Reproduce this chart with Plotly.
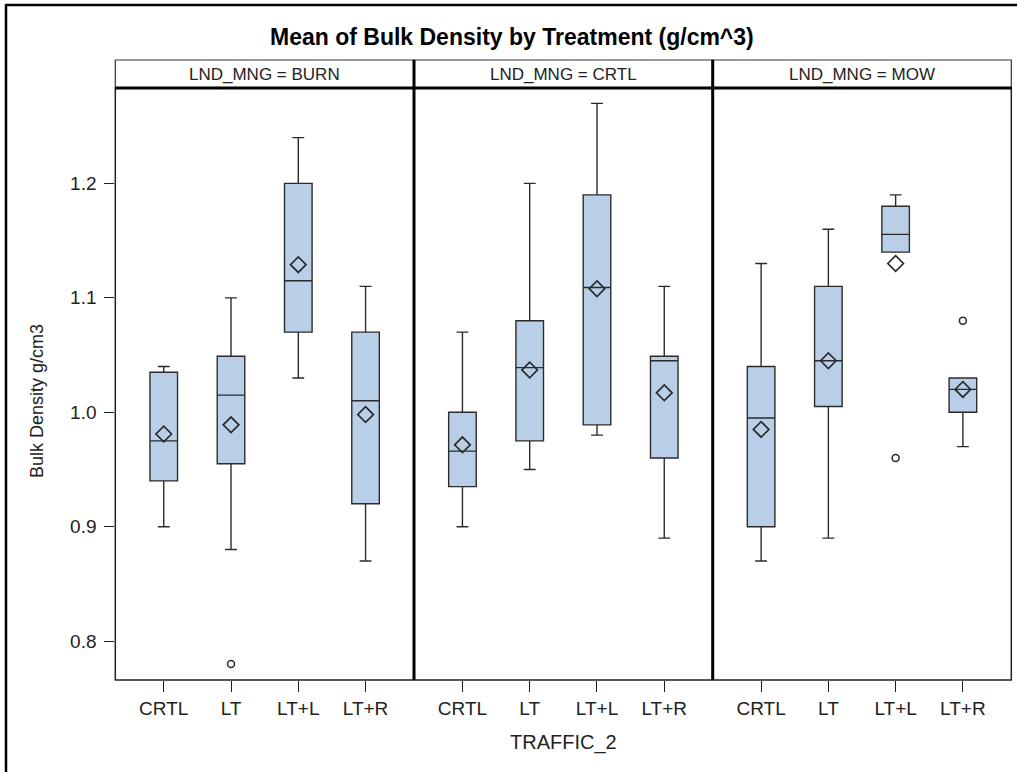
import plotly.graph_objects as go

W, H = 1017, 772

# ---------------- data ----------------
categories = ["CRTL", "LT", "LT+L", "LT+R"]
panels = ["BURN", "CRTL", "MOW"]

# LND_MNG = BURN
burn_q1 = [0.940, 0.955, 1.070, 0.920]
burn_median = [0.975, 1.015, 1.115, 1.010]
burn_q3 = [1.035, 1.049, 1.200, 1.070]
burn_low = [0.900, 0.880, 1.030, 0.870]
burn_high = [1.040, 1.100, 1.240, 1.110]
burn_mean = [0.981, 0.989, 1.129, 0.998]
burn_out_x = ["LT"]
burn_out_y = [0.780]

# LND_MNG = CRTL
crtl_q1 = [0.935, 0.975, 0.989, 0.960]
crtl_median = [0.966, 1.039, 1.109, 1.045]
crtl_q3 = [1.000, 1.080, 1.190, 1.049]
crtl_low = [0.900, 0.950, 0.980, 0.890]
crtl_high = [1.070, 1.200, 1.270, 1.110]
crtl_mean = [0.9715, 1.037, 1.108, 1.017]
crtl_out_x = []
crtl_out_y = []

# LND_MNG = MOW
mow_q1 = [0.900, 1.005, 1.140, 1.000]
mow_median = [0.995, 1.045, 1.1555, 1.020]
mow_q3 = [1.040, 1.110, 1.180, 1.030]
mow_low = [0.870, 0.890, 1.140, 0.970]
mow_high = [1.130, 1.160, 1.190, 1.030]
mow_mean = [0.985, 1.045, 1.130, 1.020]
mow_out_x = ["LT+L", "LT+R"]
mow_out_y = [0.960, 1.080]

y_ticks = [0.8, 0.9, 1.0, 1.1, 1.2]
y_ticktext = ["0.8", "0.9", "1.0", "1.1", "1.2"]

panel_data = [
    (burn_q1, burn_median, burn_q3, burn_low, burn_high, burn_mean, burn_out_x, burn_out_y),
    (crtl_q1, crtl_median, crtl_q3, crtl_low, crtl_high, crtl_mean, crtl_out_x, crtl_out_y),
    (mow_q1, mow_median, mow_q3, mow_low, mow_high, mow_mean, mow_out_x, mow_out_y),
]

# ---------------- layout geometry (pixels) ----------------
FONT = "Liberation Sans, Arial, sans-serif"
LINE = "#2b2b2b"
FILL = "#b9cfe7"

panel_x = [115.3, 414.0, 712.7, 1011.3]
plot_top, plot_bottom, strip_top = 88.0, 680.0, 60.0


def px(x):
    return x / W


def py(y):
    return 1 - y / H


fig = go.Figure()

for i, (q1, med, q3, lo, hi, mn, ox, oy) in enumerate(panel_data):
    xa = "x" if i == 0 else f"x{i+1}"
    ya = "y" if i == 0 else f"y{i+1}"
    fig.add_trace(go.Box(
        x=categories, q1=q1, median=med, q3=q3,
        lowerfence=lo, upperfence=hi,
        boxpoints=False, width=0.41, whiskerwidth=0.43,
        fillcolor=FILL, line=dict(color=LINE, width=1.4),
        xaxis=xa, yaxis=ya, showlegend=False, hoverinfo="skip",
    ))
    fig.add_trace(go.Scatter(
        x=categories, y=mn, mode="markers",
        marker=dict(symbol="diamond-open", size=12, color=LINE,
                    line=dict(color=LINE, width=1.7)),
        xaxis=xa, yaxis=ya, showlegend=False, hoverinfo="skip",
    ))
    if ox:
        fig.add_trace(go.Scatter(
            x=ox, y=oy, mode="markers",
            marker=dict(symbol="circle-open", size=7, color=LINE,
                        line=dict(color=LINE, width=1.5)),
            xaxis=xa, yaxis=ya, showlegend=False, hoverinfo="skip",
        ))

yr = [0.766, 1.2834]
layout = dict(
    width=W, height=H,
    margin=dict(l=0, r=0, t=0, b=0),
    paper_bgcolor="white", plot_bgcolor="white",
    font=dict(family=FONT, color="#222"),
    showlegend=False,
)
for i in range(3):
    xk = "xaxis" if i == 0 else f"xaxis{i+1}"
    yk = "yaxis" if i == 0 else f"yaxis{i+1}"
    layout[xk] = dict(
        domain=[px(panel_x[i]), px(panel_x[i + 1])],
        anchor="y" if i == 0 else f"y{i+1}",
        type="category", categoryorder="array", categoryarray=categories,
        range=[-0.72, 3.72], showgrid=False, zeroline=False, showline=False,
        ticks="outside", ticklen=11, tickwidth=1.2, tickcolor="#222",
        tickfont=dict(size=19, color="#222", family=FONT),
    )
    layout[yk] = dict(
        domain=[py(plot_bottom), py(plot_top)],
        anchor="x" if i == 0 else f"x{i+1}",
        range=yr, showgrid=False, zeroline=False, showline=False,
        tickvals=y_ticks, ticktext=y_ticktext,
        ticks="outside" if i == 0 else "", ticklen=10, tickwidth=1.2, tickcolor="#222",
        showticklabels=(i == 0), ticklabelstandoff=4,
        tickfont=dict(size=19, color="#222", family=FONT),
    )
    if i > 0:
        layout[yk]["matches"] = "y"
fig.update_layout(**layout)

shapes = []
# strip header boxes
for i in range(3):
    shapes.append(dict(type="rect", xref="paper", yref="paper",
                       x0=px(panel_x[i]), x1=px(panel_x[i + 1]),
                       y0=py(plot_top), y1=py(strip_top),
                       fillcolor="white", line=dict(color="#333", width=1.2), layer="above"))
# plot area outline
shapes.append(dict(type="rect", xref="paper", yref="paper",
                   x0=px(panel_x[0]), x1=px(panel_x[3]),
                   y0=py(plot_bottom), y1=py(plot_top),
                   line=dict(color="#222", width=1.5), layer="above"))
# thick header separator
shapes.append(dict(type="line", xref="paper", yref="paper",
                   x0=px(panel_x[0]), x1=px(panel_x[3]), y0=py(plot_top), y1=py(plot_top),
                   line=dict(color="black", width=3), layer="above"))
# thick panel dividers
for xd in panel_x[1:3]:
    shapes.append(dict(type="line", xref="paper", yref="paper",
                       x0=px(xd), x1=px(xd), y0=py(strip_top), y1=py(plot_bottom),
                       line=dict(color="black", width=3), layer="above"))
# outer image border (top and left)
shapes.append(dict(type="line", xref="paper", yref="paper",
                   x0=px(5.5), x1=1.0, y0=py(5), y1=py(5),
                   line=dict(color="black", width=2.5), layer="above"))
shapes.append(dict(type="line", xref="paper", yref="paper",
                   x0=px(6), x1=px(6), y0=py(4), y1=0.0,
                   line=dict(color="black", width=2.5), layer="above"))
fig.update_layout(shapes=shapes)

annotations = [
    dict(text="<b>Mean of Bulk Density by Treatment (g/cm^3)</b>", x=px(512), y=py(37),
         xref="paper", yref="paper", showarrow=False, xanchor="center", yanchor="middle",
         font=dict(size=23, color="black", family=FONT)),
    dict(text="Bulk Density g/cm3", x=px(37), y=py(401), textangle=-90,
         xref="paper", yref="paper", showarrow=False, xanchor="center", yanchor="middle",
         font=dict(size=18, color="#222", family=FONT)),
    dict(text="TRAFFIC_2", x=px(563), y=py(742),
         xref="paper", yref="paper", showarrow=False, xanchor="center", yanchor="middle",
         font=dict(size=20, color="#222", family=FONT)),
]
for i, p in enumerate(panels):
    annotations.append(dict(
        text=f"LND_MNG = {p}", x=px((panel_x[i] + panel_x[i + 1]) / 2), y=py(74.5),
        xref="paper", yref="paper", showarrow=False, xanchor="center", yanchor="middle",
        font=dict(size=17, color="#222", family=FONT)))
fig.update_layout(annotations=annotations)

fig.write_html(
    "out.html",
    config={"displayModeBar": False},
    post_script="document.body.style.margin='0';document.body.style.overflow='hidden';",
)
